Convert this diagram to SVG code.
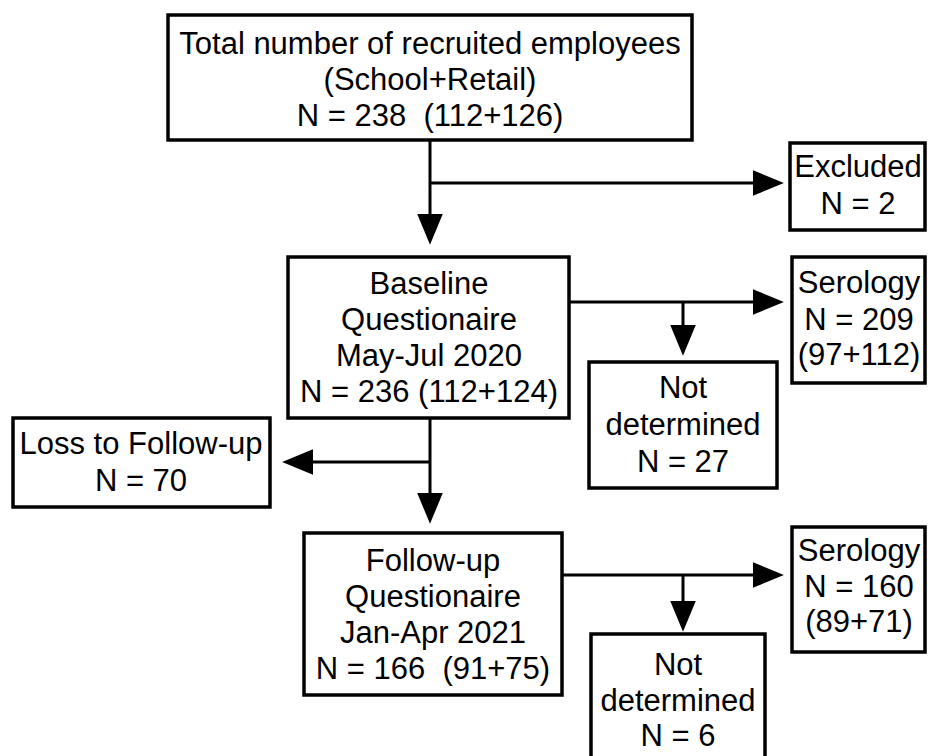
<svg xmlns="http://www.w3.org/2000/svg" width="928" height="756" viewBox="0 0 928 756">
<style>
.box{fill:#fff;stroke:#000;stroke-width:3.5}
.ln{fill:none;stroke:#000;stroke-width:3;marker-end:url(#ah)}
text{font-family:"Liberation Sans",Arial,sans-serif;font-size:31px;fill:#000;text-anchor:middle;white-space:pre}
</style>
<defs>
<marker id="ah" markerUnits="userSpaceOnUse" markerWidth="32" markerHeight="26" viewBox="0 0 30 24" refX="1" refY="12" orient="auto">
<path d="M0,0 L29,12 L0,24 Z" fill="#000"/>
</marker>
</defs>
<rect width="928" height="756" fill="#fff"/>
<g id="connectors">
<path class="ln" d="M430,140 V215"/>
<path class="ln" d="M430,183 H754"/>
<path class="ln" d="M569,302 H754"/>
<path class="ln" d="M683,302 V326"/>
<path class="ln" d="M430,418 V494"/>
<path class="ln" d="M430,462 H312"/>
<path class="ln" d="M562,575 H754"/>
<path class="ln" d="M683,575 V602"/>
</g>
<g id="total">
<rect class="box" x="168" y="15" width="524" height="125"/>
<text x="430" y="54">Total number of recruited employees</text>
<text x="430" y="90">(School+Retail)</text>
<text x="430" y="126">N = 238  (112+126)</text>
</g>
<g id="excluded">
<rect class="box" x="790" y="143" width="135" height="87"/>
<text x="858" y="177">Excluded</text>
<text x="858" y="214">N = 2</text>
</g>
<g id="baseline">
<rect class="box" x="288" y="257" width="281" height="161"/>
<text x="429" y="294">Baseline</text>
<text x="429" y="330">Questionaire</text>
<text x="429" y="366">May-Jul 2020</text>
<text x="429" y="402">N = 236 (112+124)</text>
</g>
<g id="serology1">
<rect class="box" x="792" y="257" width="133" height="126"/>
<text x="859" y="293">Serology</text>
<text x="859" y="330">N = 209</text>
<text x="859" y="365">(97+112)</text>
</g>
<g id="notdetermined1">
<rect class="box" x="589" y="362" width="188" height="126"/>
<text x="683" y="398">Not</text>
<text x="683" y="435">determined</text>
<text x="683" y="472">N = 27</text>
</g>
<g id="loss">
<rect class="box" x="13" y="418" width="257" height="89"/>
<text x="141" y="454">Loss to Follow-up</text>
<text x="141" y="491">N = 70</text>
</g>
<g id="followup">
<rect class="box" x="304" y="533" width="258" height="162"/>
<text x="433" y="571">Follow-up</text>
<text x="433" y="607">Questionaire</text>
<text x="433" y="643">Jan-Apr 2021</text>
<text x="433" y="679">N = 166  (91+75)</text>
</g>
<g id="serology2">
<rect class="box" x="792" y="527" width="133" height="125"/>
<text x="859" y="561">Serology</text>
<text x="859" y="597">N = 160</text>
<text x="859" y="632">(89+71)</text>
</g>
<g id="notdetermined2">
<rect class="box" x="591" y="634" width="174" height="130"/>
<text x="678" y="675">Not</text>
<text x="678" y="711">determined</text>
<text x="678" y="746">N = 6</text>
</g>
</svg>
